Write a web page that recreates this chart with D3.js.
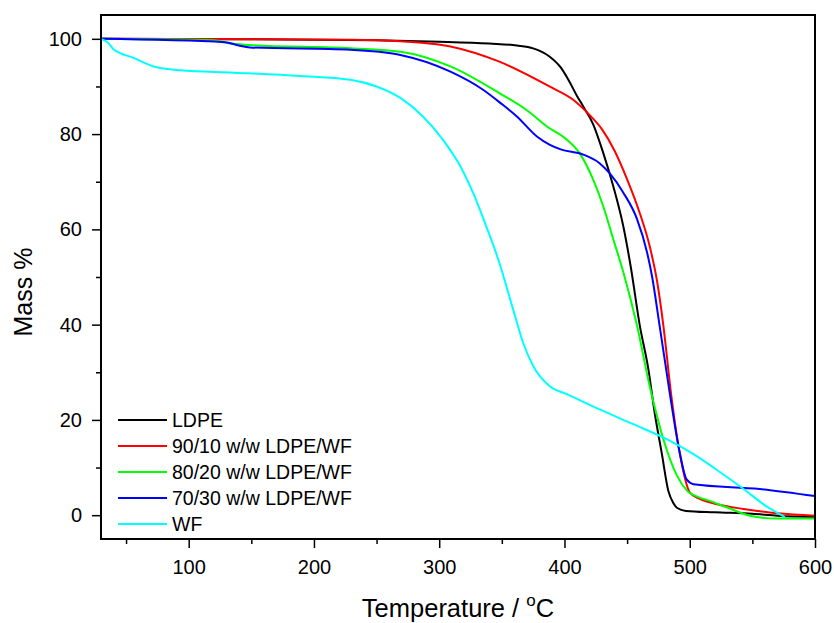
<!DOCTYPE html>
<html>
<head>
<meta charset="utf-8">
<script src="https://cdn.jsdelivr.net/npm/d3@7"></script>
<style>
  body { margin: 0; background: #fff; }
  text { font-family: Arial, "Liberation Sans", sans-serif; fill: #000; }
</style>
</head>
<body>
<div id="chart"></div>
<script>
// series names (legend order) and colours
var seriesNames = ["LDPE", "90/10 w/w LDPE/WF", "80/20 w/w LDPE/WF", "70/30 w/w LDPE/WF", "WF"];
var seriesColors = ["#000000", "#ff0000", "#00ff00", "#0000ff", "#00ffff"];

// temperature (C) / mass (%)
var ldpeT = [30, 150, 250, 300, 340, 362, 375, 388, 397, 404, 410, 415, 423, 431, 439, 447, 453, 460, 467, 472, 477.6, 483, 487, 490, 497, 520, 550, 570, 600];
var ldpeM = [100, 99.9, 99.7, 99.4, 99.0, 98.6, 98.0, 96.3, 94.0, 91, 88, 85.8, 82, 76, 69, 60.6, 52, 40, 30.6, 21.5, 13.1, 5, 2.5, 1.5, 0.9, 0.6, 0.3, -0.1, -0.4];

var r90T = [30, 150, 230, 269, 309, 348, 388, 407, 420, 430, 440, 450, 460, 468, 474, 479, 485, 492, 500, 508, 520, 543, 570, 600];
var r90M = [100, 99.9, 99.8, 99.5, 98.4, 95.2, 90.0, 87.2, 84.0, 81.0, 76.5, 70.5, 63.5, 56.5, 49, 39.7, 25.7, 13.1, 4.8, 3.4, 2.4, 1.3, 0.4, -0.1];

var g80T = [30, 120, 133, 149, 229, 269, 309, 348, 370, 386, 402, 412, 423, 431, 439, 447, 458, 468, 479, 490, 498, 508, 516, 530, 548, 569, 600];
var g80M = [100, 99.7, 99.0, 98.7, 98.0, 97.3, 94.2, 88.6, 85, 81.6, 78.8, 76.0, 70.4, 64.8, 57.9, 51, 39.7, 27.1, 15.9, 8.2, 5.1, 3.7, 3.0, 1.6, -0.1, -0.7, -0.7];

var b70T = [30, 129, 140, 149, 229, 269, 309, 335, 349, 362, 378, 388, 397, 415, 428, 436, 447, 458, 466, 470, 476, 484, 492, 497.5, 503, 556, 600];
var b70M = [100, 99.3, 98.6, 98.2, 97.7, 96.6, 93.1, 89.3, 86.5, 83.7, 79.5, 77.8, 76.8, 75.7, 73.9, 71.8, 67.7, 62.1, 55.1, 50, 39.7, 25.7, 13.1, 7.5, 6.5, 5.5, 4.0];

var wfT = [30, 36, 40, 56, 72, 93, 136, 189, 229, 250, 269, 287, 303, 317, 327, 337, 348, 359, 367, 375, 388, 402, 428, 455, 482, 503, 520, 543, 561, 576];
var wfM = [100, 99.1, 97.8, 96.0, 94.2, 93.4, 92.9, 92.2, 91.4, 90.0, 87.6, 83.7, 78.8, 73.2, 67.7, 61.0, 53, 43.2, 36.2, 31.3, 27.1, 25.4, 22.2, 19.1, 15.9, 12.8, 9.8, 5.5, 1.9, -0.4];

var xTicks = [100, 200, 300, 400, 500, 600];
var yTicks = [0, 20, 40, 60, 80, 100];

var seriesT = [ldpeT, r90T, g80T, b70T, wfT];
var seriesM = [ldpeM, r90M, g80M, b70M, wfM];

var svgWidth = 834;
var svgHeight = 623;
var margin = { top: 15, right: 19, bottom: 84, left: 101 };
var width = svgWidth - margin.left - margin.right;
var height = svgHeight - margin.top - margin.bottom;

var svg = d3.select("#chart").append("svg")
  .attr("width", svgWidth)
  .attr("height", svgHeight);

var chartGroup = svg.append("g")
  .attr("transform", `translate(${margin.left}, ${margin.top})`);

var xScale = d3.scaleLinear().domain([30, 600]).range([0, width]);
var yScale = d3.scaleLinear().domain([-5, 105]).range([height, 0]);

// clip the curves to the frame
chartGroup.append("clipPath").attr("id", "clip")
  .append("rect").attr("width", width).attr("height", height);

var line = d3.line()
  .x(d => xScale(d[0]))
  .y(d => yScale(d[1]))
  .curve(d3.curveMonotoneX);

var data = seriesNames.map(function(name, i) {
  return { name: name, color: seriesColors[i], values: seriesT[i].map((t, j) => [t, seriesM[i][j]]) };
});

chartGroup.append("g").attr("clip-path", "url(#clip)")
  .selectAll("path")
  .data(data)
  .enter()
  .append("path")
  .attr("d", d => line(d.values))
  .attr("fill", "none")
  .attr("stroke", d => d.color)
  .attr("stroke-width", 2);

// minor ticks first, then major ticks with labels
var xMinor = d3.range(50, 601, 100);
var yMinor = d3.range(10, 101, 20);

chartGroup.append("g")
  .attr("transform", `translate(0, ${height})`)
  .call(d3.axisBottom(xScale).tickValues(xMinor).tickSize(5).tickFormat(""))
  .call(g => g.select(".domain").remove())
  .selectAll("line").attr("stroke-width", 1.5);

var xAxis = chartGroup.append("g")
  .attr("transform", `translate(0, ${height})`)
  .call(d3.axisBottom(xScale).tickValues(xTicks).tickSize(9).tickPadding(12));
xAxis.select(".domain").remove();
xAxis.selectAll("line").attr("stroke-width", 1.5);
xAxis.selectAll("text").style("font-size", "20px")
  .style("font-family", "Arial, 'Liberation Sans', sans-serif");

chartGroup.append("g")
  .call(d3.axisLeft(yScale).tickValues(yMinor).tickSize(5).tickFormat(""))
  .call(g => g.select(".domain").remove())
  .selectAll("line").attr("stroke-width", 1.5);

var yAxis = chartGroup.append("g")
  .call(d3.axisLeft(yScale).tickValues(yTicks).tickSize(9).tickPadding(10));
yAxis.select(".domain").remove();
yAxis.selectAll("line").attr("stroke-width", 1.5);
yAxis.selectAll("text").style("font-size", "20px")
  .style("font-family", "Arial, 'Liberation Sans', sans-serif");

// frame
chartGroup.append("rect")
  .attr("width", width)
  .attr("height", height)
  .attr("fill", "none")
  .attr("stroke", "#000")
  .attr("stroke-width", 2);

// axis titles
var xTitle = svg.append("text")
  .attr("x", 458)
  .attr("y", 617)
  .attr("text-anchor", "middle")
  .style("font-size", "25.5px");
xTitle.append("tspan").text("Temperature / ");
xTitle.append("tspan").attr("dy", -11).style("font-size", "17px").text("o");
xTitle.append("tspan").attr("dy", 11).text("C");

svg.append("text")
  .attr("transform", "translate(32, 292) rotate(-90)")
  .attr("text-anchor", "middle")
  .style("font-size", "25px")
  .text("Mass %");

// legend
var legend = chartGroup.append("g")
  .attr("transform", "translate(17, 405)");

var legendItem = legend.selectAll("g")
  .data(data)
  .enter()
  .append("g")
  .attr("transform", (d, i) => `translate(0, ${i * 26})`);

legendItem.append("line")
  .attr("x1", 0).attr("x2", 49)
  .attr("stroke", d => d.color)
  .attr("stroke-width", 2);

legendItem.append("text")
  .attr("x", 54)
  .attr("dy", "0.35em")
  .style("font-size", "19.5px")
  .text(d => d.name);
</script>
</body>
</html>
